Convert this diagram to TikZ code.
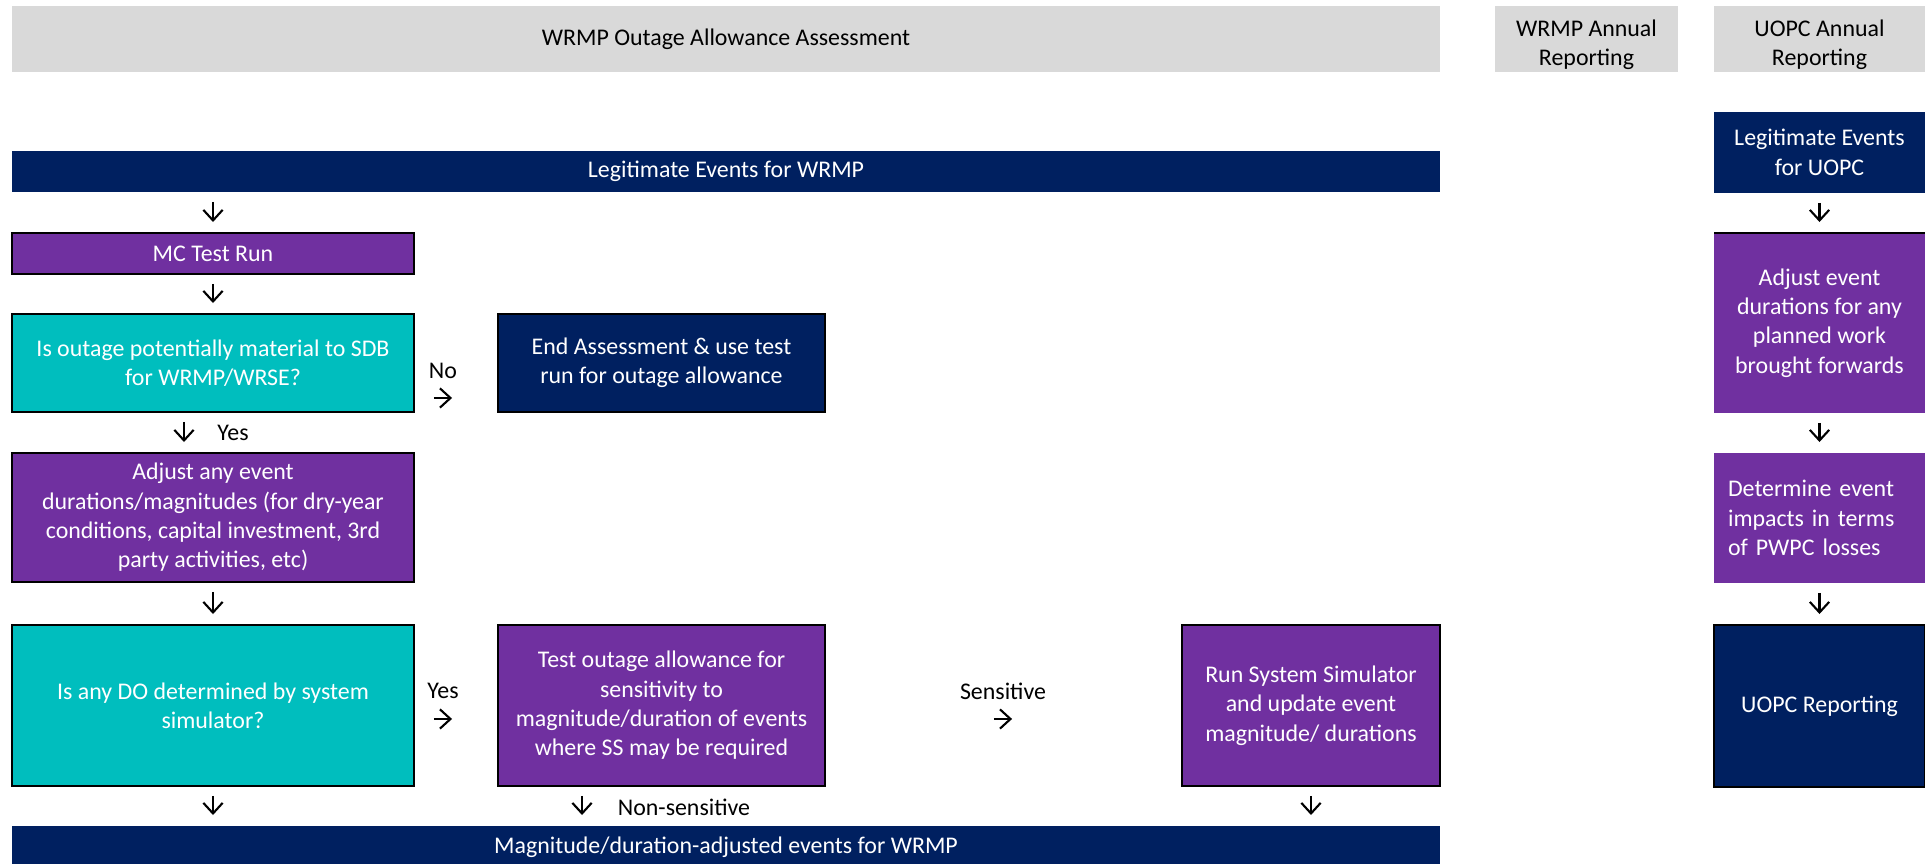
\documentclass[tikz,border=0pt]{standalone}
\usepackage{fontspec}
\setmainfont{Carlito}
\usetikzlibrary{arrows.meta, positioning}
\usepackage{xcolor}
\definecolor{navy}{HTML}{002060}
\definecolor{plum}{HTML}{7030A0}
\definecolor{aqua}{HTML}{00BEBE}
\definecolor{greybar}{HTML}{D9D9D9}
\def\px{0.02cm}

\begin{document}
\begin{tikzpicture}[x=\px, y=-\px, font=\fontsize{13.6pt}{16.7pt}\selectfont]
    \tikzstyle{box}=[rectangle, inner sep=0pt, outer sep=0pt, text=white, align=center]
    \tikzstyle{head box}=[box, fill=greybar, text=black, minimum height=1.32cm]
    \tikzstyle{navy box}=[box, fill=navy]
    \tikzstyle{plum box}=[box, fill=plum]
    \tikzstyle{aqua box}=[box, fill=aqua]
    \tikzstyle{edged}=[draw=black, line width=1.3pt]
    \tikzstyle{arr}=[-{Straight Barb[length=6pt,width=11pt]}, line width=1.2pt, shorten <=0.2cm, shorten >=0.22cm]
    \tikzstyle{lbl}=[inner sep=0pt]

    \clip (0,0) rectangle (1925,864);
    \fill[white] (0,0) rectangle (1925,864);

    % Column headings
    \node[head box, minimum width=28.56cm] (head) at (726,39) {WRMP Outage Allowance Assessment};
    \node[head box, minimum width=3.66cm] (wrmpann) at (1586.5,39) {\rule{0pt}{16pt}WRMP Annual\\Reporting};
    \node[head box, minimum width=4.22cm] (uopcann) at (1819.5,39) {\rule{0pt}{16pt}UOPC Annual\\Reporting};

    % WRMP assessment
    \node[navy box, minimum width=28.56cm, minimum height=0.82cm] (legw) at (726,171.5) {Legitimate Events for WRMP};
    \node[plum box, edged, minimum width=8.04cm, minimum height=0.82cm] (mc) at (213,253.5) {MC Test Run};
    \node[aqua box, edged, minimum width=8.04cm, minimum height=1.96cm] (q1) at (213,363) {Is outage potentially material to SDB\\for WRMP/WRSE?};
    \node[navy box, edged, minimum width=6.54cm, minimum height=1.96cm] (endA) at (661.5,363) {End Assessment \& use test\\run for outage allowance};
    \node[plum box, edged, minimum width=8.04cm, minimum height=2.58cm] (adj) at (213,517.5) {Adjust any event\\durations/magnitudes (for dry-year\\conditions, capital investment, 3rd\\party activities, etc)};
    \node[aqua box, edged, minimum width=8.04cm, minimum height=3.22cm] (q2) at (213,705.5) {Is any DO determined by system\\simulator?};
    \node[plum box, edged, minimum width=6.54cm, minimum height=3.22cm] (test) at (661.5,705.5) {Test outage allowance for\\sensitivity to\\magnitude/duration of events\\where SS may be required};
    \node[plum box, edged, minimum width=5.16cm, minimum height=3.22cm] (run) at (1311,705.5) {Run System Simulator\\and update event\\magnitude/ durations};
    \node[navy box, minimum width=28.56cm, minimum height=0.84cm] (mag) at (726,847) {Magnitude/duration-adjusted events for WRMP};

    % UOPC reporting
    \node[navy box, minimum width=4.22cm, minimum height=1.62cm] (legu) at (1819.5,152.5) {Legitimate Events\\for UOPC};
    \node[plum box, minimum width=4.22cm, minimum height=3.6cm] (adj2) at (1819.5,323) {Adjust event\\durations for any\\planned work\\brought forwards};
    \node[plum box, minimum width=4.22cm, minimum height=2.6cm, text width=3.66cm, align=left] (det) at (1819.5,518) {Determine event\\impacts in terms\\of PWPC losses};
    \node[navy box, edged, minimum width=4.22cm, minimum height=3.24cm] (uopcrep) at (1819.5,706) {UOPC Reporting};
    \draw[edged] (adj2.north west) -- (adj2.north east);

    % Decision labels
    \node[lbl] (no) at (443,371) {No};
    \node[lbl] (yes1) at (233,433) {Yes};
    \node[lbl] (yes2) at (443,691) {Yes};
    \node[lbl] (sens) at (1003,691) {Sensitive};
    \node[lbl] (nsens) at (684,807) {Non-sensitive};

    % Arrows down the WRMP column
    \draw[arr] (mc.north |- legw.south) -- (mc.north);
    \foreach \a/\b in {mc/q1, adj/q2}
        \draw[arr] (\a.south) -- (\b.north);
    \draw[arr] ([xshift=-0.58cm]q1.south) -- ([xshift=-0.58cm]adj.north);
    \draw[arr] (q2.south) -- (q2.south |- mag.north);
    \path ([xshift=-1.59cm]test.south) coordinate (ns);
    \draw[arr] (ns) -- (ns |- mag.north);
    \draw[arr] (run.south) -- (run.south |- mag.north);

    % Sideways arrows
    \draw[arr, shorten <=0.4cm, shorten >=0.92cm] ([yshift=-0.7cm]q1.east) -- ([yshift=-0.7cm]endA.west);
    \draw[arr, shorten <=0.4cm, shorten >=0.92cm] ([yshift=-0.27cm]q2.east) -- ([yshift=-0.27cm]test.west);
    \draw[arr, shorten <=3.38cm, shorten >=3.4cm] ([yshift=-0.27cm]test.east) -- ([yshift=-0.27cm]run.west);

    % Arrows down the UOPC column
    \foreach \a/\b in {legu/adj2, adj2/det, det/uopcrep}
        \draw[arr] (\a.south) -- (\b.north);
\end{tikzpicture}
\end{document}
